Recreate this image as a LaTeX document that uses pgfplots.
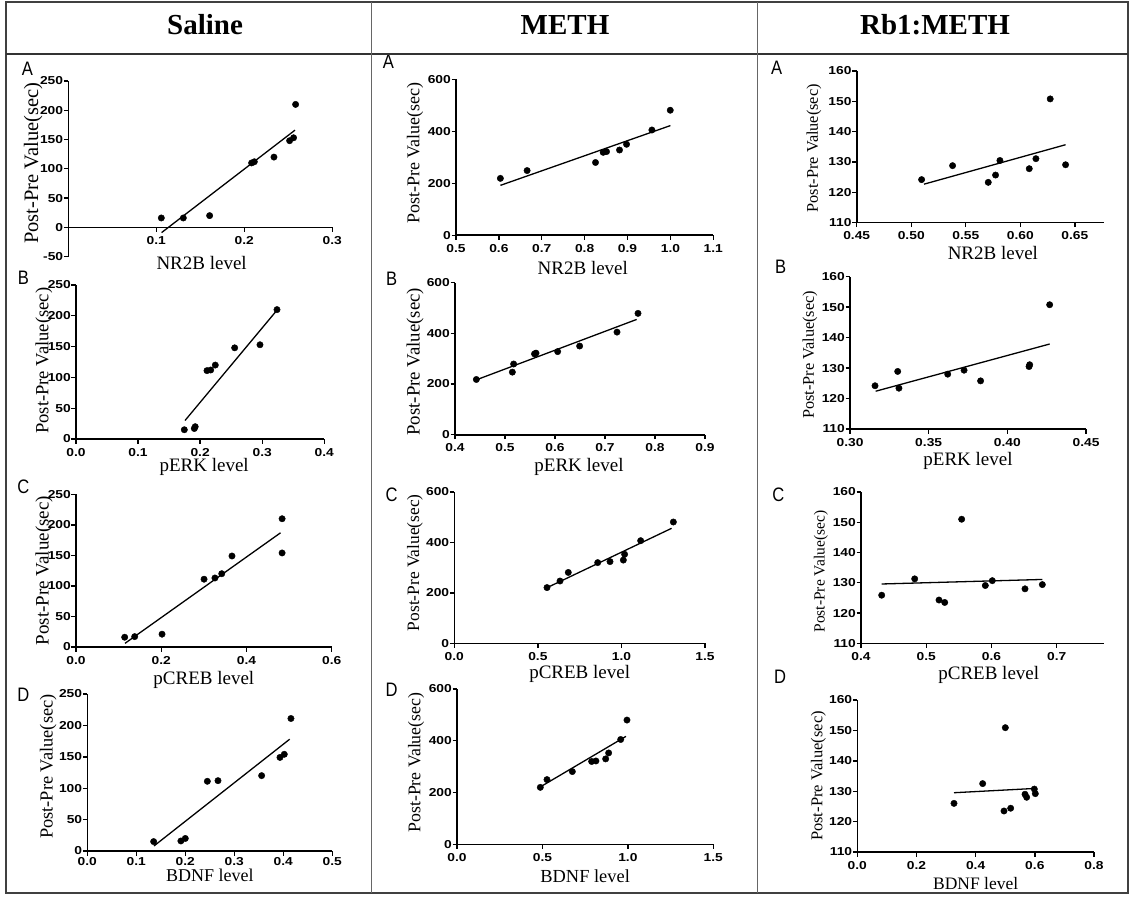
\documentclass[border=0pt]{standalone}
\usepackage{fontspec}
\setmainfont{Liberation Serif}
\newfontfamily\tickfont[FakeStretch=1.2]{Liberation Sans Bold}
\newfontfamily\letterfont[FakeStretch=0.85]{Liberation Sans}
\newfontfamily\headfont{Liberation Serif}
\usepackage{pgfplots}
\pgfplotsset{compat=1.18}
\pgfplotsset{
  panel/.style={
    scale only axis, clip=false, anchor=south west,
    axis lines=left,
    axis line style={-, line width=1.6pt},
    tick align=outside,
    major tick length=4.5pt,
    every tick/.style={black, line width=1.4pt},
    tick label style={font=\tickfont\fontsize{11.5}{13}\selectfont, inner sep=0.5pt},
    xticklabel style={yshift=-4pt},
    xlabel style={font=\fontsize{19}{21}\selectfont, anchor=base},
    ylabel style={anchor=center},
  },
  dots/.style={only marks, mark=*, mark size=3.2pt, black},
  fit/.style={black, line width=1.3pt, no marks},
  sal/.style={ymin=0, ymax=250, ytick={0,50,100,150,200,250}, yticklabels={0,50,100,150,200,250}},
  meth/.style={ymin=0, ymax=600, ytick={0,200,400,600}, yticklabels={0,200,400,600}},
  rb/.style={ymin=110, ymax=160, ytick={110,120,130,140,150,160}, yticklabels={110,120,130,140,150,160}},
}
\begin{document}
\begin{tikzpicture}
\fill[white] (0pt,0pt) rectangle (1132pt,898pt);

% ---------------- Saline ----------------
\begin{axis}[panel, at={(68.3pt,641.4pt)}, width=264pt, height=175.6pt,
  xmin=0, xmax=0.3, ymin=-50, ymax=250,
  axis x line=middle, axis y line=left, tick align=outside,
  axis line style={-, line width=1.6pt},
  every outer y axis line/.append style={-}, every inner x axis line/.append style={-},
  hide obscured x ticks=false, hide obscured y ticks=false,
  xtick={0.1,0.2,0.3}, xticklabels={0.1,0.2,0.3},
  ytick={-50,0,50,100,150,200,250}, yticklabels={-50,0,50,100,150,200,250},
  xlabel={NR2B level},
  xlabel style={font=\fontsize{19}{21}\selectfont, anchor=base, at={(axis description cs:0.505,0)}, yshift=-12.7pt},
  ylabel={Post-Pre Value(sec)},
  ylabel style={anchor=center, font=\fontsize{20.5}{22}\selectfont, at={(axis description cs:-0.1326,0.531)}}]
\addplot[fit] coordinates {(0.106,-9) (0.2576,166)};
\addplot[dots] coordinates {(0.1057,16) (0.1307,16) (0.1606,20) (0.2083,110) (0.2114,112) (0.2337,120) (0.2515,148) (0.2560,153) (0.2583,210)};
\end{axis}

\begin{axis}[panel, sal, at={(76pt,459pt)}, width=248.3pt, height=154pt,
  xmin=0, xmax=0.4, xtick={0,0.1,0.2,0.3,0.4}, xticklabels={0.0,0.1,0.2,0.3,0.4},
  xlabel={pERK level}, xlabel style={at={(axis description cs:0.516,0)}, yshift=-32.7pt},
  ylabel={Post-Pre Value(sec)}, ylabel style={font=\fontsize{18.6}{20}\selectfont, at={(axis description cs:-0.1289,0.508)}}]
\addplot[fit] coordinates {(0.1756,30) (0.3220,207)};
\addplot[dots] coordinates {(0.1745,15) (0.1906,17) (0.1920,20) (0.2110,111) (0.2170,112) (0.2244,120) (0.2556,148) (0.2964,153) (0.3238,210)};
\end{axis}

\begin{axis}[panel, sal, at={(76pt,251pt)}, width=255.7pt, height=152.7pt,
  xmin=0, xmax=0.6, xtick={0,0.2,0.4,0.6}, xticklabels={0.0,0.2,0.4,0.6},
  xlabel={pCREB level}, xlabel style={at={(axis description cs:0.5,0)}, yshift=-37pt},
  ylabel={Post-Pre Value(sec)}, ylabel style={font=\fontsize{19}{21}\selectfont, at={(axis description cs:-0.1251,0.5)}}]
\addplot[fit] coordinates {(0.115,6) (0.480,187)};
\addplot[dots] coordinates {(0.1142,16) (0.1377,17) (0.2019,21) (0.3005,111) (0.3260,113) (0.3420,120) (0.3660,149) (0.4836,210) (0.4836,154)};
\end{axis}

\begin{axis}[panel, sal, at={(87.3pt,47pt)}, width=245pt, height=157pt,
  xmin=0, xmax=0.5, xtick={0,0.1,0.2,0.3,0.4,0.5}, xticklabels={0.0,0.1,0.2,0.3,0.4,0.5},
  xticklabel style={yshift=3pt},
  xlabel={BDNF level}, xlabel style={font=\fontsize{18}{20}\selectfont, at={(axis description cs:0.5,0)}, yshift=-30.7pt},
  ylabel={Post-Pre Value(sec)}, ylabel style={font=\fontsize{18.4}{20}\selectfont, at={(axis description cs:-0.1592,0.537)}}]
\addplot[fit] coordinates {(0.136,8) (0.413,178)};
\addplot[dots] coordinates {(0.1354,15) (0.1910,16) (0.2000,20) (0.2450,111) (0.2667,112) (0.3558,120) (0.3932,149) (0.4020,154) (0.4156,211)};
\end{axis}

% ---------------- METH ----------------
\begin{axis}[panel, meth, at={(456pt,662.7pt)}, width=257.3pt, height=156pt,
  xmin=0.5, xmax=1.1, xtick={0.5,0.6,0.7,0.8,0.9,1.0,1.1}, xticklabels={0.5,0.6,0.7,0.8,0.9,1.0,1.1},
  xlabel={NR2B level}, xlabel style={at={(axis description cs:0.493,0)}, yshift=-39.4pt},
  ylabel={Post-Pre Value(sec)}, ylabel style={font=\fontsize{18}{20}\selectfont, at={(axis description cs:-0.1593,0.526)}}]
\addplot[fit] coordinates {(0.6035,192) (1.0,422)};
\addplot[dots] coordinates {(0.6035,219) (0.6658,249) (0.8253,280) (0.8432,319) (0.8510,322) (0.8813,328) (0.8977,350) (0.9568,405) (0.9996,481)};
\end{axis}

\begin{axis}[panel, meth, at={(455pt,463.3pt)}, width=250pt, height=152pt,
  xmin=0.4, xmax=0.9, xtick={0.4,0.5,0.6,0.7,0.8,0.9}, xticklabels={0.4,0.5,0.6,0.7,0.8,0.9},
  xlabel={pERK level}, xlabel style={at={(axis description cs:0.496,0)}, yshift=-37pt},
  ylabel={Post-Pre Value(sec)}, ylabel style={font=\fontsize{18.8}{20}\selectfont, at={(axis description cs:-0.16,0.48)}}]
\addplot[fit] coordinates {(0.4433,217) (0.7633,455)};
\addplot[dots] coordinates {(0.4427,218) (0.5147,247) (0.5173,279) (0.5590,319) (0.5620,322) (0.6053,328) (0.6493,350) (0.7240,405) (0.7660,479)};
\end{axis}

\begin{axis}[panel, meth, at={(454.3pt,254.7pt)}, width=250.7pt, height=151.3pt,
  xmin=0, xmax=1.5, xtick={0,0.5,1.0,1.5}, xticklabels={0.0,0.5,1.0,1.5},
  xlabel={pCREB level}, xlabel style={at={(axis description cs:0.5,0)}, yshift=-35pt},
  ylabel={Post-Pre Value(sec)}, ylabel style={font=\fontsize{17.4}{19}\selectfont, at={(axis description cs:-0.1568,0.533)}}]
\addplot[fit] coordinates {(0.5625,223) (1.30,456)};
\addplot[dots] coordinates {(0.5546,221) (0.6324,247) (0.6820,281) (0.8580,320) (0.9316,324) (1.0114,330) (1.0190,353) (1.1150,407) (1.3106,481)};
\end{axis}

\begin{axis}[panel, meth, at={(457pt,53.7pt)}, width=256.3pt, height=155.3pt,
  xmin=0, xmax=1.5, xtick={0,0.5,1.0,1.5}, xticklabels={0.0,0.5,1.0,1.5},
  xlabel={BDNF level}, xlabel style={font=\fontsize{18.4}{20}\selectfont, at={(axis description cs:0.5,0)}, yshift=-37.7pt},
  ylabel={Post-Pre Value(sec)}, ylabel style={font=\fontsize{17.8}{19}\selectfont, at={(axis description cs:-0.16,0.526)}}]
\addplot[fit] coordinates {(0.4857,221) (0.9889,417)};
\addplot[dots] coordinates {(0.4876,220) (0.5266,250) (0.6750,281) (0.7880,320) (0.8130,322) (0.8700,330) (0.8875,353) (0.9580,405) (0.9947,480)};
\end{axis}

% ---------------- Rb1:METH ----------------
\begin{axis}[panel, rb, at={(856.7pt,675.3pt)}, width=247.6pt, height=151.7pt,
  xmin=0.45, xmax=0.677, xtick={0.45,0.50,0.55,0.60,0.65}, xticklabels={0.45,0.50,0.55,0.60,0.65},
  xlabel={NR2B level}, xlabel style={at={(axis description cs:0.55,0)}, yshift=-37.3pt},
  ylabel={Post-Pre Value(sec)}, ylabel style={font=\fontsize{16.3}{18}\selectfont, at={(axis description cs:-0.1725,0.491)}}]
\addplot[fit] coordinates {(0.5117,122.7) (0.6415,135.7)};
\addplot[dots] coordinates {(0.5095,124.2) (0.5379,128.8) (0.5706,123.3) (0.5773,125.7) (0.5813,130.5) (0.6082,127.8) (0.6143,131.1) (0.6274,150.8) (0.6415,129.1)};
\end{axis}

\begin{axis}[panel, rb, at={(850pt,469pt)}, width=236pt, height=152.3pt,
  xmin=0.30, xmax=0.45, xtick={0.30,0.35,0.40,0.45}, xticklabels={0.30,0.35,0.40,0.45},
  xlabel={pERK level}, xlabel style={at={(axis description cs:0.5,0)}, yshift=-36pt},
  ylabel={Post-Pre Value(sec)}, ylabel style={font=\fontsize{16.3}{18}\selectfont, at={(axis description cs:-0.1695,0.487)}}]
\addplot[fit] coordinates {(0.3163,122.4) (0.4269,137.9)};
\addplot[dots] coordinates {(0.3159,124.2) (0.3303,128.9) (0.3311,123.4) (0.3621,128.0) (0.3725,129.3) (0.3830,125.8) (0.4138,130.5) (0.4142,131.1) (0.4269,150.8)};
\end{axis}

\begin{axis}[panel, rb, at={(861pt,254.7pt)}, width=243.3pt, height=151.3pt,
  xmin=0.4, xmax=0.773, xtick={0.4,0.5,0.6,0.7}, xticklabels={0.4,0.5,0.6,0.7},
  xlabel={pCREB level}, xlabel style={at={(axis description cs:0.525,0)}, yshift=-36pt},
  ylabel={Post-Pre Value(sec)}, ylabel style={font=\fontsize{15.5}{17}\selectfont, at={(axis description cs:-0.1644,0.474)}}]
\addplot[fit] coordinates {(0.4317,129.6) (0.678,131.1)};
\addplot[dots] coordinates {(0.4317,125.9) (0.4823,131.3) (0.5196,124.3) (0.5283,123.5) (0.5543,151.0) (0.5906,129.1) (0.6013,130.7) (0.6514,128.0) (0.6780,129.4)};
\end{axis}

\begin{axis}[panel, rb, at={(857.3pt,46pt)}, width=236.7pt, height=152pt,
  xmin=0, xmax=0.8, xtick={0,0.2,0.4,0.6,0.8}, xticklabels={0.0,0.2,0.4,0.6,0.8},
  xlabel={BDNF level}, xlabel style={font=\fontsize{17.5}{19}\selectfont, at={(axis description cs:0.5,0)}, yshift=-37.3pt},
  ylabel={Post-Pre Value(sec)}, ylabel style={font=\fontsize{16.5}{18}\selectfont, at={(axis description cs:-0.1648,0.5)}}]
\addplot[fit] coordinates {(0.3268,129.5) (0.5983,130.9)};
\addplot[dots] coordinates {(0.3268,126.0) (0.4237,132.5) (0.4958,123.5) (0.5003,150.9) (0.5183,124.4) (0.5668,129.0) (0.5724,128.0) (0.5983,130.7) (0.6017,129.2)};
\end{axis}

% panel letters
\begin{scope}[every node/.style={font=\letterfont\fontsize{19.5}{21}\selectfont, anchor=base, inner sep=0pt}]
\node at (27.5pt,822pt) {A};
\node at (23.3pt,613.7pt) {B};
\node at (23.3pt,404.7pt) {C};
\node at (23.3pt,196.3pt) {D};
\node at (388.3pt,829.7pt) {A};
\node at (391.7pt,612pt) {B};
\node at (391.7pt,397pt) {C};
\node at (391.7pt,201.3pt) {D};
\node at (776.7pt,823pt) {A};
\node at (780.7pt,624pt) {B};
\node at (778.3pt,396.3pt) {C};
\node at (780pt,214.7pt) {D};
\end{scope}

% header
\begin{scope}[every node/.style={font=\headfont\bfseries\fontsize{29}{31}\selectfont, anchor=base, inner sep=0pt}]
\node at (205pt,863pt) {Saline};
\node at (565pt,863pt) {METH};
\node at (935pt,863pt) {Rb1:METH};
\end{scope}

% table rules
\draw[black!75, line width=1.8pt] (6pt,896pt) rectangle (1128pt,5pt);
\draw[black!80, line width=1.8pt] (6pt,844pt) -- (1128pt,844pt);
\draw[black!60, line width=1.8pt] (371.5pt,896pt) -- (371.5pt,5pt);
\draw[black!60, line width=1.8pt] (757.5pt,896pt) -- (757.5pt,5pt);
\path (0pt,0pt) rectangle (1132pt,898pt);
\end{tikzpicture}
\end{document}
